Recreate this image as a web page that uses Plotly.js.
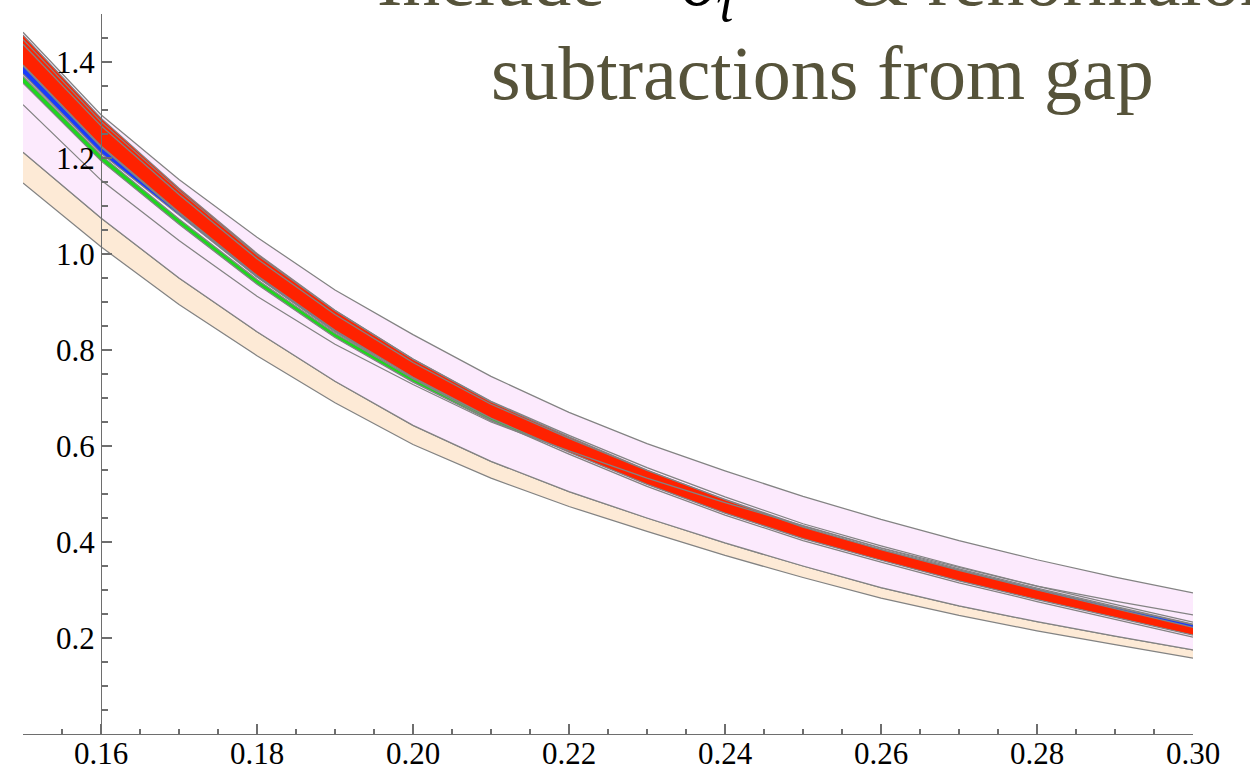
<!DOCTYPE html>
<html>
<head>
<meta charset="utf-8">
<script src="https://cdn.plot.ly/plotly-3.0.1.min.js"></script>
<style>html,body{margin:0;padding:0;background:#fff;}#chart{width:1250px;height:772px;}</style>
</head>
<body>
<div id="chart"></div>
<script>
// ---- data ----
const x = [0.15,0.16,0.17,0.18,0.19,0.20,0.21,0.22,0.23,0.24,0.25,0.26,0.27,0.28,0.29,0.30];

const pinkTop   = [1.462,1.290,1.155,1.035,0.925,0.832,0.745,0.670,0.605,0.548,0.495,0.447,0.403,0.363,0.327,0.294];
const peachTop  = [1.212,1.075,0.950,0.838,0.735,0.643,0.568,0.505,0.450,0.398,0.350,0.305,0.267,0.234,0.204,0.175];
const peachBot  = [1.148,1.015,0.895,0.788,0.690,0.603,0.533,0.474,0.422,0.372,0.326,0.283,0.247,0.215,0.186,0.158];
const grayLine  = [1.311,1.154,1.028,0.912,0.812,0.728,0.650,0.590,0.533,0.482,0.434,0.388,0.347,0.308,0.277,0.248];
const greenTop  = [1.370,1.206,1.073,0.947,0.835,0.741,0.659,0.594,0.528,0.468,0.415,0.370,0.328,0.288,0.251,0.214];
const greenBot  = [1.356,1.194,1.062,0.937,0.826,0.733,0.652,0.589,0.524,0.464,0.411,0.366,0.324,0.284,0.247,0.210];
const blueTop   = [1.394,1.228,1.098,0.965,0.850,0.755,0.672,0.603,0.538,0.480,0.428,0.384,0.342,0.302,0.264,0.228];
const blueBot   = [1.375,1.210,1.081,0.952,0.838,0.745,0.662,0.592,0.526,0.468,0.416,0.372,0.330,0.290,0.253,0.218];
const redTop    = [1.456,1.283,1.137,1.001,0.883,0.781,0.692,0.619,0.550,0.488,0.431,0.384,0.341,0.300,0.261,0.222];
const redBot    = [1.394,1.225,1.087,0.955,0.841,0.743,0.658,0.587,0.520,0.460,0.407,0.362,0.319,0.280,0.243,0.206];
const innerTop  = [1.447,1.276,1.132,0.998,0.882,0.781,0.693,0.622,0.555,0.494,0.438,0.392,0.349,0.308,0.270,0.233];
const innerBot  = [1.437,1.267,1.124,0.990,0.874,0.774,0.687,0.616,0.549,0.489,0.433,0.387,0.344,0.304,0.266,0.229];
const lowerEdge = [1.392,1.223,1.085,0.952,0.838,0.740,0.654,0.583,0.516,0.456,0.403,0.358,0.315,0.276,0.239,0.202];

const xTickVals = [0.16,0.18,0.20,0.22,0.24,0.26,0.28,0.30];
const xTickText = ["0.16","0.18","0.20","0.22","0.24","0.26","0.28","0.30"];
const yTickVals = [0.2,0.4,0.6,0.8,1.0,1.2,1.4];
const yTickText = ["0.2","0.4","0.6","0.8","1.0","1.2","1.4"];

const titleLine1 = 'Include\u00a0\u00a0\u00a0 <span style="color:#000"><i>δ</i><sub><i>τ</i></sub></span>\u00a0\u00a0\u00a0\u00a0\u00a0 &amp; renormalon';
const titleLine2 = 'subtractions from gap';

// ---- styles ----
const edge = {color:'#838383', width:1.25, shape:'linear'};
function line(y){ return {x:x, y:y, mode:'lines', line:edge, hoverinfo:'skip', showlegend:false}; }
function band(lo, hi, fill){
  return [line(lo), Object.assign(line(hi), {fill:'tonexty', fillcolor:fill})];
}

const traces = [].concat(
  band(peachBot, peachTop, 'rgb(253,234,214)'),
  band(peachTop, pinkTop, 'rgb(252,234,253)'),
  band(greenBot, greenTop, 'rgb(30,215,30)'),
  band(blueBot, blueTop, 'rgb(25,60,250)'),
  band(redBot, redTop, 'rgb(255,34,0)'),
  [line(innerBot), line(innerTop), line(lowerEdge), line(grayLine)]
);

const axisColor = '#6e6e6e';
const tickFont = {family:'Liberation Serif, Times New Roman, serif', size:31, color:'#000'};

const layout = {
  width:1250, height:772,
  margin:{l:23, r:57, t:14, b:38},
  paper_bgcolor:'#fff', plot_bgcolor:'#fff',
  showlegend:false, hovermode:false,
  xaxis:{
    range:[0.15,0.30], showgrid:false, zeroline:false,
    showline:true, linecolor:axisColor, linewidth:1.2,
    ticks:'inside', ticklen:10, tickcolor:axisColor, tickwidth:1.2,
    tickmode:'array', tickvals:xTickVals, ticktext:xTickText, tickfont:tickFont,
    ticklabelstandoff:-8,
    minor:{tick0:0.15, dtick:0.005, ticks:'inside', ticklen:5, tickcolor:axisColor, tickwidth:1.2, showgrid:false}
  },
  yaxis:{
    range:[0,1.5], showgrid:false, zeroline:false,
    anchor:'free', position:(0.16-0.15)/(0.30-0.15),
    showline:true, linecolor:axisColor, linewidth:1.2,
    ticks:'inside', ticklen:10, tickcolor:axisColor, tickwidth:1.2,
    tickmode:'array', tickvals:yTickVals, ticktext:yTickText, tickfont:tickFont,
    minor:{tick0:0, dtick:0.05, ticks:'inside', ticklen:6, tickcolor:axisColor, tickwidth:1.2, showgrid:false}
  },
  annotations:[
    {text:titleLine1, xref:'paper', yref:'paper', x:(375-23)/1170, y:(734+15)/720,
     xanchor:'left', yanchor:'middle', showarrow:false,
     font:{family:'Liberation Serif, serif', size:76, color:'#56533a'}},
    {text:titleLine2, xref:'paper', yref:'paper', x:(822-23)/1170, y:(734-73)/720,
     xanchor:'center', yanchor:'middle', showarrow:false,
     font:{family:'Liberation Serif, serif', size:76, color:'#56533a'}}
  ]
};

Plotly.newPlot('chart', traces, layout, {staticPlot:true, displayModeBar:false});
</script>
</body>
</html>
